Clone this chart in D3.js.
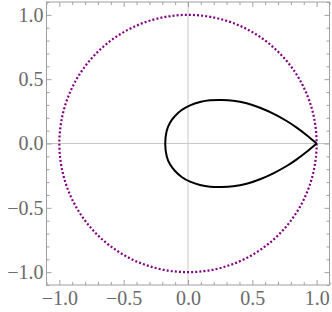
<!DOCTYPE html>
<html>
<head>
<meta charset="utf-8">
<script src="https://cdn.jsdelivr.net/npm/d3@7"></script>
<style>
  body { margin: 0; background: #fff; }
  .axis text { font-family: 'Liberation Serif', serif; font-size: 20px; fill: #6a6a6a; }
  .axis line { stroke: #a0a0a0; }
  .axis path { display: none; }
</style>
</head>
<body>
<svg id="chart"></svg>
<script>
// tick labels / values
const majorTicks = [-1, -0.5, 0, 0.5, 1];
const minorTicks = [-1.1, -0.9, -0.8, -0.7, -0.6, -0.4, -0.3, -0.2, -0.1,
  0.1, 0.2, 0.3, 0.4, 0.6, 0.7, 0.8, 0.9, 1.1];

// teardrop curve (from tip, over the top, back to the tip)
const loopX = [1.0, 0.923, 0.845, 0.767, 0.663, 0.560, 0.456, 0.352, 0.262, 0.171, 0.093, 0.016,
  -0.049, -0.101, -0.140, -0.166, -0.177,
  -0.166, -0.140, -0.101, -0.049, 0.016, 0.093, 0.171, 0.262, 0.352, 0.456, 0.560, 0.663,
  0.767, 0.845, 0.923, 1.0];
const loopY = [0, 0.064, 0.123, 0.175, 0.232, 0.278, 0.313, 0.333, 0.338, 0.336, 0.323, 0.297,
  0.260, 0.214, 0.162, 0.097, 0,
  -0.097, -0.162, -0.214, -0.260, -0.297, -0.323, -0.336, -0.338, -0.333, -0.313, -0.278, -0.232,
  -0.175, -0.123, -0.064, 0];

// unit circle
const circleCenter = [0, 0];
const circleRadius = 1;

const width = 332;
const height = 312;
const margin = { top: 2, right: 2.5, bottom: 27, left: 46.5 };

const svg = d3.select('#chart')
  .attr('width', width)
  .attr('height', height);

const x = d3.scaleLinear().domain([-1.1, 1.1]).range([margin.left, width - margin.right]);
const y = d3.scaleLinear().domain([-1.1, 1.1]).range([height - margin.bottom, margin.top]);

const fmt = d => (d < 0 ? '\u2212' : '') + d3.format('.1f')(Math.abs(d));

// grid lines through zero
svg.append('line')
  .attr('x1', x(0)).attr('x2', x(0))
  .attr('y1', y.range()[0]).attr('y2', y.range()[1])
  .attr('stroke', '#e4e4e4').attr('stroke-width', 2);
svg.append('line')
  .attr('x1', x.range()[0]).attr('x2', x.range()[1])
  .attr('y1', y(0)).attr('y2', y(0))
  .attr('stroke', '#c8c8c8').attr('stroke-width', 1);

// axes: major + minor ticks on all four sides, pointing inward
const yBottom = y.range()[0];
const yTop = y.range()[1];
const xLeft = x.range()[0];
const xRight = x.range()[1];

svg.append('g').attr('class', 'axis')
  .attr('transform', `translate(0,${yBottom})`)
  .call(d3.axisBottom(x).tickValues(majorTicks).tickSize(-5).tickPadding(6).tickFormat(fmt));
svg.append('g').attr('class', 'axis')
  .attr('transform', `translate(0,${yBottom})`)
  .call(d3.axisBottom(x).tickValues(minorTicks).tickSize(-3).tickFormat(''));
svg.append('g').attr('class', 'axis')
  .attr('transform', `translate(0,${yTop})`)
  .call(d3.axisTop(x).tickValues(majorTicks).tickSize(-5).tickFormat(''));
svg.append('g').attr('class', 'axis')
  .attr('transform', `translate(0,${yTop})`)
  .call(d3.axisTop(x).tickValues(minorTicks).tickSize(-3).tickFormat(''));

svg.append('g').attr('class', 'axis')
  .attr('transform', `translate(${xLeft},0)`)
  .call(d3.axisLeft(y).tickValues(majorTicks).tickSize(-5).tickPadding(3).tickFormat(fmt));
svg.append('g').attr('class', 'axis')
  .attr('transform', `translate(${xLeft},0)`)
  .call(d3.axisLeft(y).tickValues(minorTicks).tickSize(-3).tickFormat(''));
svg.append('g').attr('class', 'axis')
  .attr('transform', `translate(${xRight},0)`)
  .call(d3.axisRight(y).tickValues(majorTicks).tickSize(-5).tickFormat(''));
svg.append('g').attr('class', 'axis')
  .attr('transform', `translate(${xRight},0)`)
  .call(d3.axisRight(y).tickValues(minorTicks).tickSize(-3).tickFormat(''));

// frame
svg.append('rect')
  .attr('x', xLeft).attr('y', yTop)
  .attr('width', xRight - xLeft).attr('height', yBottom - yTop)
  .attr('fill', 'none').attr('stroke', '#a0a0a0').attr('stroke-width', 1);

// dotted unit circle
svg.append('circle')
  .attr('cx', x(circleCenter[0]))
  .attr('cy', y(circleCenter[1]))
  .attr('r', x(circleRadius) - x(0))
  .attr('fill', 'none')
  .attr('stroke', '#800080')
  .attr('stroke-width', 2.2)
  .attr('stroke-dasharray', '2,2.1');

// teardrop
const loop = loopX.map((d, i) => [d, loopY[i]]);
svg.append('path')
  .datum(loop)
  .attr('fill', 'none')
  .attr('stroke', '#000')
  .attr('stroke-width', 2)
  .attr('stroke-linejoin', 'miter')
  .attr('d', d3.line().x(d => x(d[0])).y(d => y(d[1])).curve(d3.curveNatural));
</script>
</body>
</html>
